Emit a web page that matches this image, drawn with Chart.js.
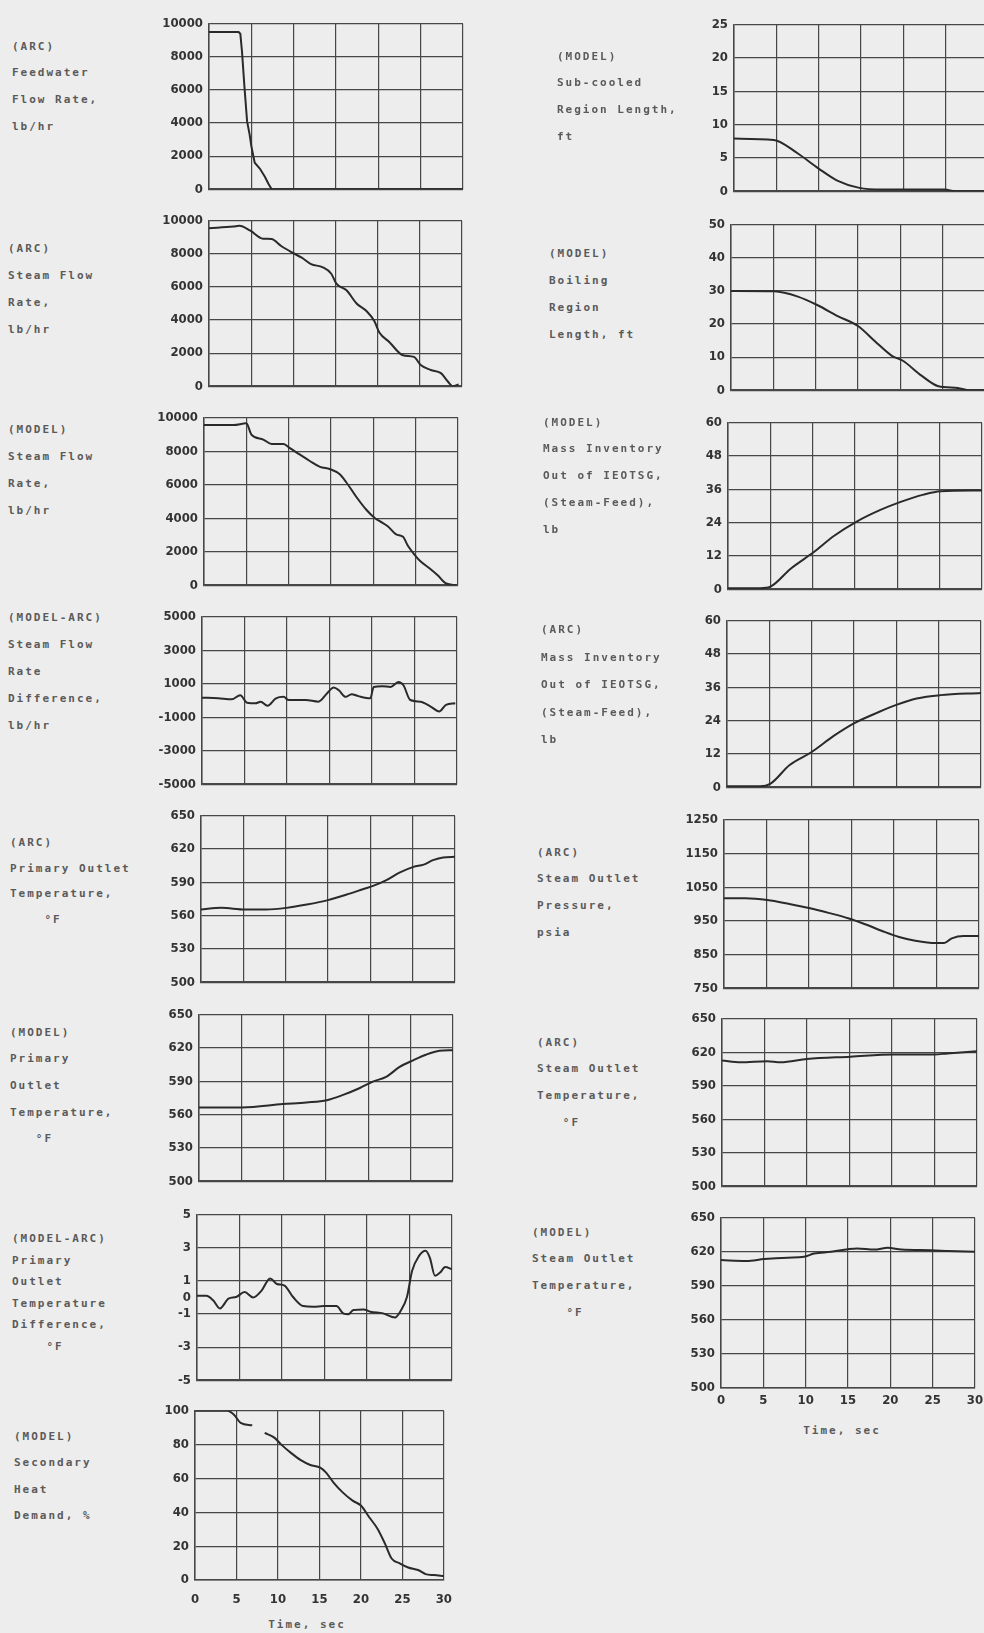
<!DOCTYPE html>
<html>
<head>
<meta charset="utf-8">
<script src="https://cdn.jsdelivr.net/npm/chart.js@4.4.0/dist/chart.umd.min.js"></script>
<style>
html, body { margin: 0; padding: 0; background: #ededed; overflow: hidden; width: 984px; height: 1633px; }
#page { position: relative; width: 984px; height: 1633px; }
canvas { position: absolute; }
.lbl { position: absolute; font: bold 11px "DejaVu Sans Mono", monospace; letter-spacing: 2px; color: #5a5a5a; white-space: pre; }
.xt { position: absolute; font: bold 11px "DejaVu Sans Mono", monospace; letter-spacing: 2px; color: #5a5a5a; transform: translate(-50%, -50%); white-space: pre; }
</style>
</head>
<body>
<div id="page"></div>
<script>
// time axis, seconds
const timeTicks = [0, 5, 10, 15, 20, 25, 30];

// y tick sets
const flowTicks = [0, 2000, 4000, 6000, 8000, 10000];
const flowDiffTicks = [-5000, -3000, -1000, 1000, 3000, 5000];
const tempTicks = [500, 530, 560, 590, 620, 650];
const tempDiffTicks = [-5, -3, -1, 0, 1, 3, 5];
const heatTicks = [0, 20, 40, 60, 80, 100];
const subTicks = [0, 5, 10, 15, 20, 25];
const boilTicks = [0, 10, 20, 30, 40, 50];
const massTicks = [0, 12, 24, 36, 48, 60];
const pressTicks = [750, 850, 950, 1050, 1150, 1250];

// (ARC) feedwater flow, lb/hr
const feedArcT = [0, 3.5, 3.7, 3.9, 4.2, 4.5, 4.8, 5.0, 5.4, 6.0, 6.6, 7.0, 7.4, 10, 15, 20, 25, 30];
const feedArcV = [9500, 9500, 9400, 8300, 6100, 4100, 3300, 2600, 1600, 1250, 750, 350, 0, 0, 0, 0, 0, 0];

// (ARC) steam flow, lb/hr
const steamArcT = [0, 2.9, 3.6, 4.9, 6.4, 7.4, 8.6, 9.9, 11.0, 12.1, 13.5, 14.5, 15.1, 16.3, 17.5, 18.7, 19.6, 20.2, 21.4, 23.0, 24.3, 25.1, 26.3, 27.5, 28.3, 28.9, 29.6];
const steamArcV = [9550, 9650, 9700, 9400, 8920, 8900, 8460, 8070, 7770, 7380, 7190, 6800, 6200, 5800, 5000, 4530, 3940, 3250, 2660, 1870, 1770, 1280, 980, 790, 300, 0, 100];

// (MODEL) steam flow, lb/hr
const steamModelT = [0, 3.5, 5.0, 5.6, 7.0, 8.0, 9.4, 10.1, 11.3, 12.5, 13.7, 14.9, 16.0, 16.8, 18.0, 19.2, 20.2, 20.8, 21.7, 22.7, 23.5, 24.1, 24.9, 25.5, 26.7, 27.6, 28.6, 29.8];
const steamModelV = [9570, 9570, 9670, 9000, 8700, 8440, 8440, 8200, 7810, 7420, 7070, 6930, 6640, 6150, 5270, 4490, 4000, 3810, 3520, 3030, 2890, 2340, 1800, 1460, 980, 590, 100, 0];

// (MODEL-ARC) steam flow difference, lb/hr
const steamDiffT = [0, 1.9, 3.5, 4.5, 5.3, 6.3, 6.9, 7.7, 8.7, 9.6, 10.2, 12.2, 13.7, 14.7, 15.5, 16.1, 16.9, 17.6, 18.4, 19.8, 20.2, 21.2, 22.2, 23.1, 23.7, 24.5, 25.7, 26.9, 27.9, 28.7, 29.8];
const steamDiffV = [170, 130, 70, 320, -130, -170, -70, -320, 130, 220, 30, 30, -70, 420, 770, 610, 220, 380, 260, 130, 810, 850, 810, 1100, 910, 30, -70, -360, -650, -260, -170];

// (ARC) primary outlet temperature, F
const primArcT = [0, 2.4, 5.2, 7.7, 10.1, 12.5, 15.0, 17.2, 19.2, 20.4, 21.9, 23.5, 25.1, 26.3, 27.4, 28.6, 30];
const primArcV = [565.5, 567, 565.5, 565.5, 567, 570, 574, 579, 584, 587, 592, 599, 604, 606, 610, 612.5, 613];

// (MODEL) primary outlet temperature, F
const primModelT = [0, 5.1, 9.9, 12.7, 15.1, 17.1, 19.0, 20.6, 22.1, 23.7, 25.3, 26.8, 28.4, 30];
const primModelV = [566.5, 566.5, 569.5, 571, 573, 578, 584, 590, 594, 603, 609, 614, 617.5, 618];

// (MODEL-ARC) primary outlet temperature difference, F
const primDiffT = [0, 1.1, 1.9, 2.7, 3.7, 4.6, 5.6, 6.6, 7.6, 8.6, 9.4, 10.3, 11.3, 12.5, 13.7, 14.9, 16.4, 17.2, 17.8, 18.4, 19.6, 20.4, 21.9, 23.3, 23.9, 24.7, 25.3, 26.1, 26.9, 27.4, 28.0, 28.6, 29.2, 30];
const primDiffV = [0.1, 0.1, -0.17, -0.66, -0.07, 0.03, 0.33, 0, 0.42, 1.15, 0.82, 0.72, 0.03, -0.52, -0.56, -0.52, -0.52, -0.96, -1.02, -0.76, -0.72, -0.86, -0.96, -1.21, -0.86, 0.03, 1.6, 2.5, 2.83, 2.4, 1.31, 1.51, 1.84, 1.7];

// (MODEL) secondary heat demand, %
const heatT = [0, 3.9, 4.7, 5.5, 6.9, 7.6, 8.4, 9.6, 10.4, 11.6, 12.7, 13.9, 15.1, 15.8, 16.7, 17.8, 19.0, 20.0, 21.0, 22.0, 22.9, 23.7, 24.7, 25.7, 26.9, 27.8, 28.8, 30];
const heatV = [100, 100, 97.7, 92.8, 91.4, null, 86.9, 84, 80, 75, 71, 68, 66.4, 63.5, 57.6, 51.8, 46.9, 44, 37.1, 30.3, 21.5, 12.7, 9.8, 7.4, 5.9, 3.5, 2.9, 2.3];

// (MODEL) sub-cooled region length, ft
const subT = [0, 4.7, 7.5, 10.0, 12.2, 14.8, 17.4, 21.3, 24.9, 26.1, 30];
const subV = [7.9, 7.7, 5.7, 3.4, 1.6, 0.5, 0.25, 0.25, 0.25, 0, 0];

// (MODEL) boiling region length, ft
const boilT = [0, 5.1, 7.9, 10.3, 12.6, 15.0, 17.0, 19.0, 20.3, 22.5, 24.5, 26.8, 28.0, 30];
const boilV = [30, 29.9, 28.3, 25.6, 22.4, 19.4, 14.8, 10.4, 8.9, 4.4, 1.2, 0.7, 0, 0];

// mass inventory out of IEOTSG, lb
const massModelT = [0, 3.8, 5.0, 7.4, 10.1, 12.5, 15.2, 18.0, 20.4, 23.1, 25.1, 30];
const massModelV = [0.35, 0.35, 0.9, 7.4, 13.3, 19.2, 24.4, 28.6, 31.5, 34.1, 35.3, 35.6];
const massArcT = [0, 3.9, 5.1, 7.4, 10.0, 12.6, 15.1, 17.7, 20.0, 22.4, 25.2, 30];
const massArcV = [0.35, 0.35, 1.2, 8.0, 12.7, 18.5, 23.2, 26.8, 29.7, 32.0, 33.2, 34.0];

// (ARC) steam outlet pressure, psia
const pressT = [0, 2.5, 5.1, 7.7, 10.0, 12.4, 14.7, 16.7, 18.6, 20.6, 22.5, 24.9, 25.9, 26.8, 28.2, 30];
const pressV = [1017, 1017, 1012, 1000, 988, 973, 957, 939, 920, 902, 891, 884, 884, 898, 905, 905];

// steam outlet temperature, F
const sotArcT = [0, 2.2, 5.3, 6.9, 10.0, 15.1, 20.2, 25.0, 26.5, 30];
const sotArcV = [612.6, 611, 612, 611, 614, 616, 618, 618, 619, 621];
const sotModelT = [0, 3.0, 5.1, 7.9, 9.8, 11.0, 13.0, 15.0, 16.1, 18.1, 19.7, 21.3, 24.8, 26.8, 30];
const sotModelV = [612.7, 612, 613.6, 614.9, 615.6, 618.5, 620, 622.3, 623, 622, 623.6, 622, 621.4, 620.8, 620];

const gridColor = '#474747';
const lineColor = '#2a2a2a';
const tickFont = { family: '"DejaVu Sans Condensed", "DejaVu Sans", sans-serif', size: 13, weight: 'bold' };

// box = plot area [left, top, width, height]; label = [x, first line centre y, line height, text]
const panels = [
    { t: feedArcT, v: feedArcV, yt: flowTicks, box: [209, 22, 254, 169], straight: true,
      label: [12, 47, 26.7, '(ARC)\nFeedwater\nFlow Rate,\nlb/hr'] },
    { t: steamArcT, v: steamArcV, yt: flowTicks, box: [209, 219, 253, 169],
      label: [8, 248, 27, '(ARC)\nSteam Flow\nRate,\nlb/hr'] },
    { t: steamModelT, v: steamModelV, yt: flowTicks, box: [204, 416, 254, 171],
      label: [8, 429, 27, '(MODEL)\nSteam Flow\nRate,\nlb/hr'] },
    { t: steamDiffT, v: steamDiffV, yt: flowDiffTicks, box: [202, 615, 255, 171],
      label: [8, 617, 27, '(MODEL-ARC)\nSteam Flow\nRate\nDifference,\nlb/hr'] },
    { t: primArcT, v: primArcV, yt: tempTicks, box: [201, 814, 254, 170],
      label: [10, 843, 25.5, '(ARC)\nPrimary Outlet\nTemperature,\n    °F'] },
    { t: primModelT, v: primModelV, yt: tempTicks, box: [199, 1013, 254, 170],
      label: [10, 1033, 26.7, '(MODEL)\nPrimary\nOutlet\nTemperature,\n   °F'] },
    { t: primDiffT, v: primDiffV, yt: tempDiffTicks, box: [197, 1213, 255, 169], noZeroLine: true,
      label: [12, 1239, 21.5, '(MODEL-ARC)\nPrimary\nOutlet\nTemperature\nDifference,\n    °F'] },
    { t: heatT, v: heatV, yt: heatTicks, box: [195, 1409, 255, 171], bottom: true, xpad: 12,
      label: [14, 1437, 26.5, '(MODEL)\nSecondary\nHeat\nDemand, %'] },

    { t: subT, v: subV, yt: subTicks, box: [734, 23, 254, 170],
      label: [557, 57, 26.7, '(MODEL)\nSub-cooled\nRegion Length,\nft'] },
    { t: boilT, v: boilV, yt: boilTicks, box: [731, 223, 254, 169],
      label: [549, 253, 27, '(MODEL)\nBoiling\nRegion\nLength, ft'] },
    { t: massModelT, v: massModelV, yt: massTicks, box: [728, 421, 254, 170],
      label: [543, 423, 26.8, '(MODEL)\nMass Inventory\nOut of IEOTSG,\n(Steam-Feed),\nlb'] },
    { t: massArcT, v: massArcV, yt: massTicks, box: [727, 619, 254, 170],
      label: [541, 630, 27.5, '(ARC)\nMass Inventory\nOut of IEOTSG,\n(Steam-Feed),\nlb'] },
    { t: pressT, v: pressV, yt: pressTicks, box: [724, 818, 255, 172],
      label: [537, 853, 26.7, '(ARC)\nSteam Outlet\nPressure,\npsia'] },
    { t: sotArcT, v: sotArcV, yt: tempTicks, box: [722, 1017, 255, 171],
      label: [537, 1043, 26.7, '(ARC)\nSteam Outlet\nTemperature,\n   °F'] },
    { t: sotModelT, v: sotModelV, yt: tempTicks, box: [721, 1216, 254, 172], bottom: true, xpad: 5,
      label: [532, 1233, 26.7, '(MODEL)\nSteam Outlet\nTemperature,\n    °F'] }
];

const page = document.getElementById('page');

function addLabel(x, y, lh, text) {
    const div = document.createElement('div');
    div.className = 'lbl';
    div.style.left = x + 'px';
    div.style.top = (y - lh / 2) + 'px';
    div.style.lineHeight = lh + 'px';
    div.textContent = text;
    page.appendChild(div);
}

function addAxisTitle(x, y, text) {
    const div = document.createElement('div');
    div.className = 'xt';
    div.style.left = x + 'px';
    div.style.top = y + 'px';
    div.textContent = text;
    page.appendChild(div);
}

function makePanel(p) {
    const [L, T, W, H] = p.box;
    const padL = 70, padT = 12, padR = 14;
    const padB = p.bottom ? 0 : 12;
    const xh = p.bottom ? 30 : 0;

    const canvas = document.createElement('canvas');
    canvas.width = W + padL + padR;
    canvas.height = H + padT + padB + xh;
    canvas.style.left = (L - padL) + 'px';
    canvas.style.top = (T - padT) + 'px';
    canvas.style.width = canvas.width + 'px';
    canvas.style.height = canvas.height + 'px';
    page.appendChild(canvas);

    const yMin = p.yt[0], yMax = p.yt[p.yt.length - 1];

    new Chart(canvas, {
        type: 'line',
        data: {
            datasets: [{
                data: p.t.map((x, i) => ({ x: x, y: p.v[i] })),
                borderColor: lineColor,
                borderWidth: 2,
                pointRadius: 0,
                fill: false,
                spanGaps: false,
                cubicInterpolationMode: p.straight ? 'default' : 'monotone',
                tension: 0
            }]
        },
        options: {
            responsive: false,
            animation: false,
            devicePixelRatio: 1,
            layout: { padding: { left: 0, top: padT, right: padR, bottom: padB } },
            plugins: { legend: { display: false }, tooltip: { enabled: false } },
            scales: {
                x: {
                    type: 'linear',
                    min: 0,
                    max: 30,
                    afterBuildTicks: s => { s.ticks = timeTicks.map(v => ({ value: v })); },
                    afterFit: s => { s.height = xh; },
                    grid: { color: gridColor, lineWidth: 1.2, drawTicks: false },
                    border: { color: gridColor, width: 1.5 },
                    ticks: {
                        display: !!p.bottom,
                        padding: p.xpad || 8,
                        font: tickFont,
                        color: '#333333',
                        autoSkip: false,
                        maxRotation: 0,
                        callback: v => String(v)
                    }
                },
                y: {
                    type: 'linear',
                    min: yMin,
                    max: yMax,
                    afterBuildTicks: s => { s.ticks = p.yt.map(v => ({ value: v })); },
                    afterFit: s => { s.width = padL; },
                    grid: {
                        color: ctx => (p.noZeroLine && ctx.tick && ctx.tick.value === 0) ? 'rgba(0,0,0,0)' : gridColor,
                        lineWidth: 1.2,
                        drawTicks: false
                    },
                    border: { color: gridColor, width: 1.5 },
                    ticks: {
                        padding: 6,
                        font: tickFont,
                        color: '#333333',
                        autoSkip: false,
                        callback: v => String(v)
                    }
                }
            }
        }
    });

    addLabel(p.label[0], p.label[1], p.label[2], p.label[3]);
}

panels.forEach(makePanel);

addAxisTitle(307, 1624, 'Time, sec');
addAxisTitle(842, 1430, 'Time, sec');
</script>
</body>
</html>
